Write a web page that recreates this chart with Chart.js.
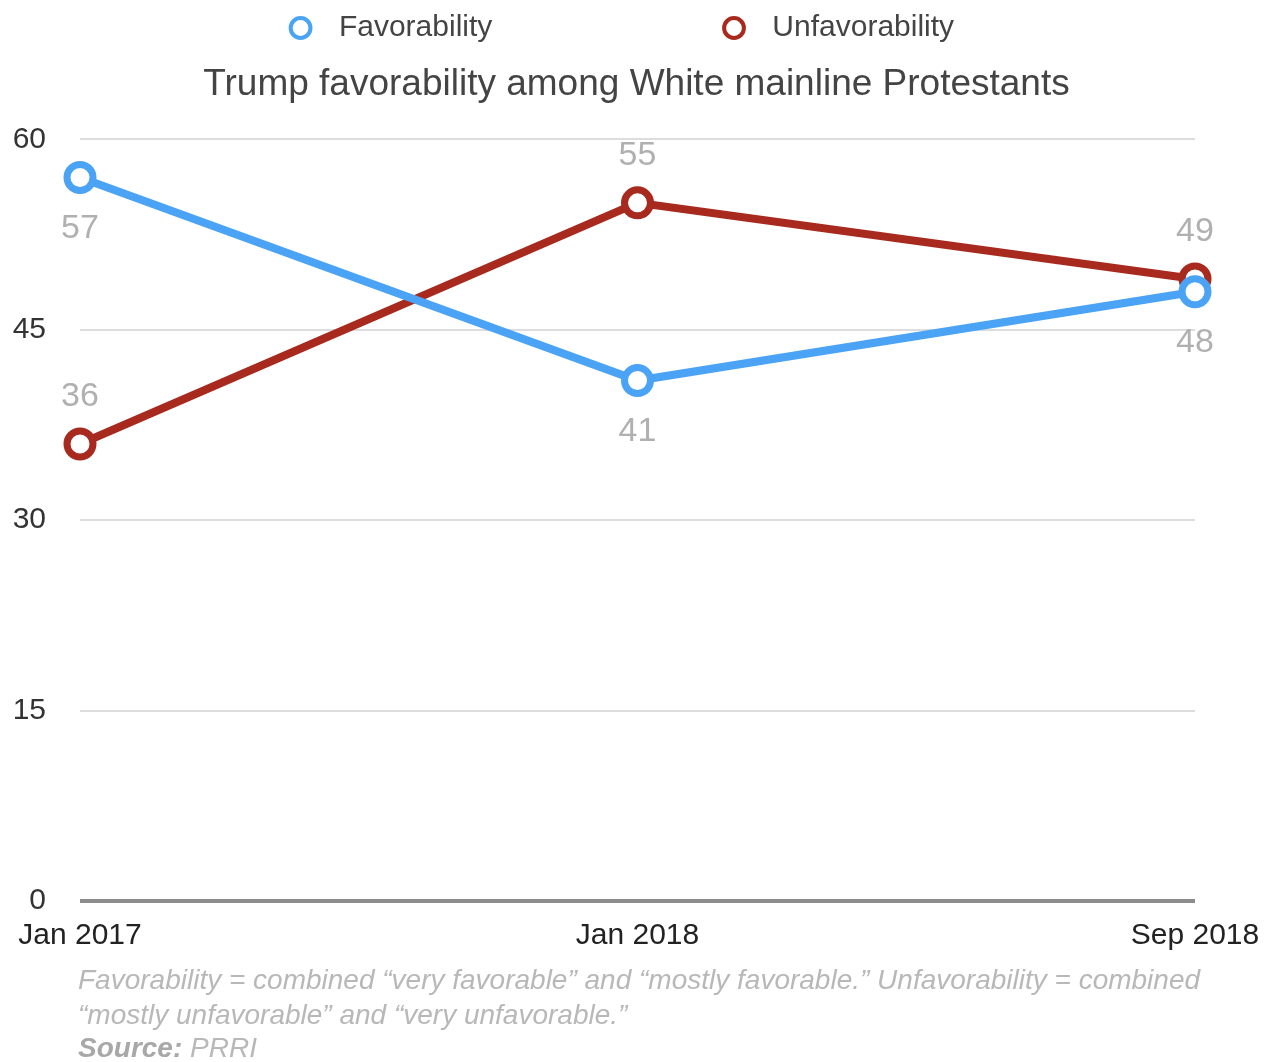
<!DOCTYPE html>
<html>
<head>
<meta charset="utf-8">
<script src="https://cdn.jsdelivr.net/npm/chart.js@4/dist/chart.umd.min.js"></script>
<style>
  html, body { margin: 0; padding: 0; background: #fff; }
  #wrap { width: 1273px; height: 1062px; position: relative; }
</style>
</head>
<body>
<div id="wrap"><canvas id="c"></canvas></div>
<script>
const categories = ['Jan 2017', 'Jan 2018', 'Sep 2018'];
const favorability = [57, 41, 48];
const unfavorability = [36, 55, 49];
const yTicks = [0, 15, 30, 45, 60];
const titleText = 'Trump favorability among White mainline Protestants';
const noteLine1 = 'Favorability = combined \u201cvery favorable\u201d and \u201cmostly favorable.\u201d Unfavorability = combined';
const noteLine2 = '\u201cmostly unfavorable\u201d and \u201cvery unfavorable.\u201d';
const sourceLabel = 'Source:';
const sourceText = ' PRRI';

const FONT = '"Liberation Sans", Arial, Helvetica, sans-serif';
const BLUE = '#4aa3f4';
const RED = '#a82a1e';

const dataLabels = {
  id: 'dataLabels',
  afterDatasetsDraw(chart) {
    const ctx = chart.ctx;
    ctx.save();
    ctx.font = '34px ' + FONT;
    ctx.fillStyle = '#b0b0b0';
    ctx.textAlign = 'center';
    ctx.textBaseline = 'middle';
    chart.data.datasets.forEach((ds, di) => {
      const meta = chart.getDatasetMeta(di);
      meta.data.forEach((pt, i) => {
        const off = ds.labelPos === 'below' ? 51 : -47;
        ctx.fillText(String(ds.data[i]), pt.x, pt.y + off);
      });
    });
    ctx.restore();
  }
};

const footnote = {
  id: 'footnote',
  afterDraw(chart) {
    const ctx = chart.ctx;
    const x = 78;
    ctx.save();
    ctx.fillStyle = '#b8b8b8';
    ctx.textBaseline = 'middle';
    ctx.textAlign = 'left';
    ctx.font = 'italic 28px ' + FONT;
    ctx.fillText(noteLine1, x, 981);
    ctx.fillText(noteLine2, x, 1016);
    ctx.font = 'italic bold 28px ' + FONT;
    ctx.fillStyle = '#a8a8a8';
    ctx.fillText(sourceLabel, x, 1049);
    const w = ctx.measureText(sourceLabel).width;
    ctx.font = 'italic 28px ' + FONT;
    ctx.fillStyle = '#b8b8b8';
    ctx.fillText(sourceText, x + w, 1049);
    ctx.restore();
  }
};

new Chart(document.getElementById('c'), {
  type: 'line',
  data: {
    labels: categories,
    datasets: [
      {
        label: 'Favorability',
        data: favorability,
        labelPos: 'below',
        borderColor: BLUE,
        backgroundColor: '#ffffff',
        borderWidth: 8,
        pointRadius: 13,
        pointHoverRadius: 13,
        pointBorderWidth: 7,
        pointBackgroundColor: '#ffffff',
        pointBorderColor: BLUE,
        tension: 0
      },
      {
        label: 'Unfavorability',
        data: unfavorability,
        labelPos: 'above',
        borderColor: RED,
        backgroundColor: '#ffffff',
        borderWidth: 8,
        pointRadius: 13,
        pointHoverRadius: 13,
        pointBorderWidth: 7,
        pointBackgroundColor: '#ffffff',
        pointBorderColor: RED,
        tension: 0
      }
    ]
  },
  options: {
    responsive: true,
    maintainAspectRatio: false,
    animation: false,
    layout: { padding: { left: 0, right: 0, top: 3, bottom: 106 } },
    plugins: {
      legend: {
        position: 'top',
        weight: 3000,
        labels: {
          usePointStyle: true,
          pointStyle: 'circle',
          boxHeight: 14,
          padding: 10,
          color: '#444',
          font: { family: FONT, size: 30 },
          generateLabels(chart) {
            const items = Chart.defaults.plugins.legend.labels.generateLabels(chart);
            items.forEach((it, i) => {
              it.fillStyle = '#ffffff';
              it.lineWidth = 4;
              it.text = ' ' + it.text + (i === 0 ? ' '.repeat(26) : ' '.repeat(4));
            });
            return items;
          }
        }
      },
      title: {
        display: true,
        text: titleText,
        color: '#444',
        weight: 500,
        font: { family: FONT, size: 37, weight: 'normal' },
        padding: { top: 10, bottom: 32 }
      },
      tooltip: { enabled: false }
    },
    scales: {
      x: {
        grid: { display: false, drawTicks: false },
        border: { display: false },
        ticks: {
          color: '#222',
          font: { family: FONT, size: 30 },
          padding: 17,
          maxRotation: 0,
          autoSkip: false
        },
        afterFit(s) { s.paddingRight = 78; s.paddingLeft = 80; s.height = 55; }
      },
      y: {
        min: 0,
        max: 60,
        afterBuildTicks(s) { s.ticks = yTicks.map(v => ({ value: v })); },
        grid: {
          drawTicks: false,
          color: c => (c.tick && c.tick.value === 0) ? '#8c8c8c' : '#dddddd',
          lineWidth: c => (c.tick && c.tick.value === 0) ? 4 : 2
        },
        border: { display: false },
        ticks: {
          color: '#333',
          font: { family: FONT, size: 30 },
          padding: 34
        },
        afterFit(s) { s.width = 80; }
      }
    }
  },
  plugins: [dataLabels, footnote]
});
</script>
</body>
</html>
